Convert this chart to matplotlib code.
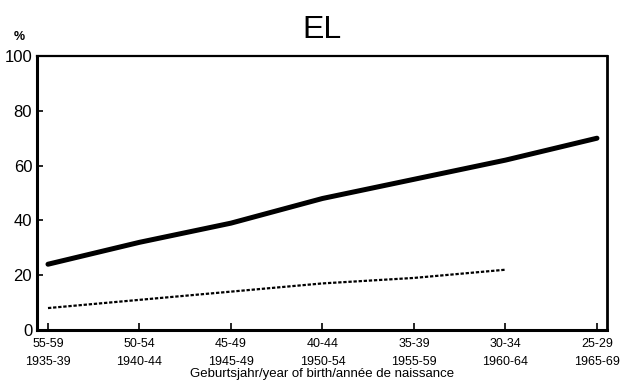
"""EL chart: share by birth cohort, two series."""

import matplotlib

matplotlib.use("Agg")
import matplotlib.pyplot as plt  # noqa: E402
import numpy as np  # noqa: E402

AGE_GROUPS = ["55-59", "50-54", "45-49", "40-44", "35-39", "30-34", "25-29"]
BIRTH_YEARS = ["1935-39", "1940-44", "1945-49", "1950-54", "1955-59", "1960-64", "1965-69"]
UPPER_SERIES = [24, 32, 39, 48, 55, 62, 70]
LOWER_SERIES = [8, 11, 14, 17, 19, 22, np.nan]
Y_TICKS = [0, 20, 40, 60, 80, 100]

plt.rcParams["font.family"] = ["Liberation Sans", "DejaVu Sans"]

fig = plt.figure(figsize=(6.21, 3.85), dpi=100)
ax = fig.add_axes([0.0596, 0.1429, 0.9179, 0.7116])

x = np.arange(len(AGE_GROUPS))
ax.plot(x, UPPER_SERIES, color="black", linewidth=3.6, solid_capstyle="round")
ax.plot(x, LOWER_SERIES, color="black", linewidth=1.6, linestyle=(0, (1.5, 0.8)))

ax.set_xlim(-0.12, 6.11)
ax.set_ylim(0, 100)
ax.set_yticks(Y_TICKS)
ax.set_yticklabels([str(v) for v in Y_TICKS], fontsize=12)
ax.set_xticks(x)
ax.set_xticklabels([f"{a}\n{b}" for a, b in zip(AGE_GROUPS, BIRTH_YEARS)],
                   fontsize=9, linespacing=1.6)
ax.tick_params(axis="y", direction="in", length=4, width=1.2, pad=3.5)
ax.tick_params(axis="x", direction="in", length=5, width=1.2, pad=6)

for side, lw in {"left": 2.2, "bottom": 2.2, "right": 2.0, "top": 1.6}.items():
    ax.spines[side].set_linewidth(lw)

ax.set_xlabel("Geburtsjahr/year of birth/année de naissance", fontsize=9.5, labelpad=0)
fig.text(0.518, 0.923, "EL", fontsize=23, ha="center", va="center")
fig.text(0.022, 0.905, "%", fontsize=9, fontweight="bold", ha="left", va="center")

fig.savefig("out.png", dpi=100)
